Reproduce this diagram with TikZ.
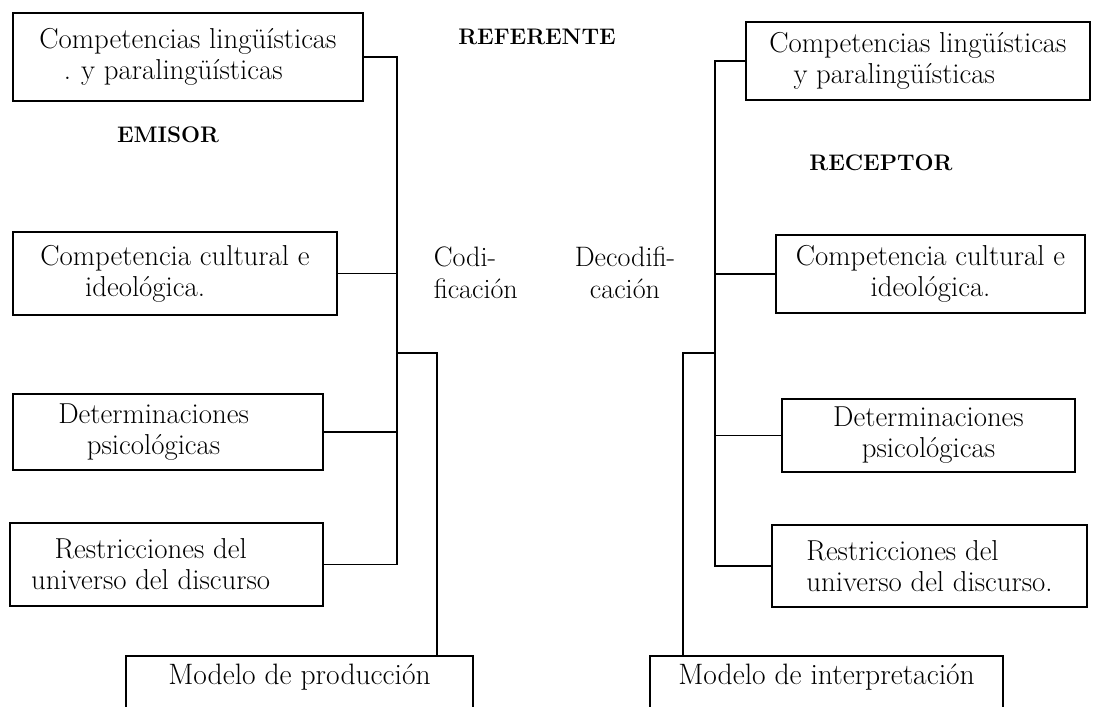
\documentclass[tikz,border=0pt]{standalone}
\usepackage{fontspec}

\begin{document}
\begin{tikzpicture}[x=0.025cm,y=-0.025cm,line width=1.1pt]
    \tikzstyle{caja}=[draw,rectangle,inner sep=0pt,font=\fontsize{20.5}{22}\selectfont]
    \tikzstyle{modelo}=[draw,rectangle,anchor=north,inner ysep=3pt,text height=17.5pt,text depth=60pt,font=\fontsize{21}{24}\selectfont]
    \tikzstyle{titulo}=[font=\fontsize{16}{18}\selectfont\bfseries]
    \tikzstyle{proceso}=[inner sep=0pt,font=\fontsize{20}{22.5}\selectfont]
      \useasboundingbox (0,0) rectangle (1098,707);
      \clip (0,0) rectangle (1098,707);

      \node (E1) at (188,57) [caja,minimum width=8.75cm,minimum height=2.2cm,align=left] {Competencias lingüísticas\\\hspace*{0.85em}.\hspace{0.35em}y paralingüísticas};
      \node (E2) at (175,273.5) [caja,minimum width=8.1cm,minimum height=2.075cm,align=left] {Competencia cultural e\\\hspace*{1.55em}ideológica.};
      \node (E3) at (168,432) [caja,minimum width=7.75cm,minimum height=1.9cm,align=center] {Determinaciones\hspace*{1em}\\psicológicas\hspace*{1em}};
      \node (E4) at (166.5,564.5) [caja,minimum width=7.825cm,minimum height=2.075cm,align=center] {Restricciones del\hspace*{1.1em}\\universo del discurso\hspace*{1.1em}};
      \node (MP) at (299.5,655) [modelo,minimum width=8.675cm] {Modelo de producción};

      \node (R1) at (918,61) [caja,minimum width=8.6cm,minimum height=1.95cm,align=center] {Competencias lingüísticas\\y paralingüísticas\hspace*{1.65em}};
      \node (R2) at (930.5,274) [caja,minimum width=7.725cm,minimum height=1.95cm,align=center] {Competencia cultural e\\ideológica.};
      \node (R3) at (928.5,435.5) [caja,minimum width=7.325cm,minimum height=1.825cm,align=center] {Determinaciones\\psicológicas};
      \node (R4) at (929.5,566) [caja,minimum width=7.875cm,minimum height=2.05cm,align=left] {Restricciones del\\universo del discurso.};
      \node (MI) at (826.5,655) [modelo,minimum width=8.825cm] {Modelo de interpretación};

      \node (REF) at (537,37) [titulo] {REFERENTE};
      \node (EMI) at (168,135) [titulo] {EMISOR};
      \node (REC) at (881,163) [titulo] {RECEPTOR};
      \node (COD) at (433,273) [proceso,anchor=west,align=left] {Codi-\\ficación};
      \node (DEC) at (625,273) [proceso,align=center] {Decodifi-\\cación};

      \coordinate (TE) at (397,353);
      \coordinate (TE2) at (437,353);
      \draw (E1.east) -- (E1.east -| TE) -- (E4.east -| TE) -- (E4.east);
      \draw (E2.east) -- (E2.east -| TE);
      \draw (E3.east) -- (E3.east -| TE);
      \draw (TE) -- (TE2) -- (TE2 |- MP.north);

      \coordinate (TR) at (715,353);
      \coordinate (TR2) at (683,353);
      \draw (R1.west) -- (R1.west -| TR) -- (R4.west -| TR) -- (R4.west);
      \draw (R2.west) -- (R2.west -| TR);
      \draw (R3.west) -- (R3.west -| TR);
      \draw (TR) -- (TR2) -- (TR2 |- MI.north);
  \end{tikzpicture}
\end{document}
